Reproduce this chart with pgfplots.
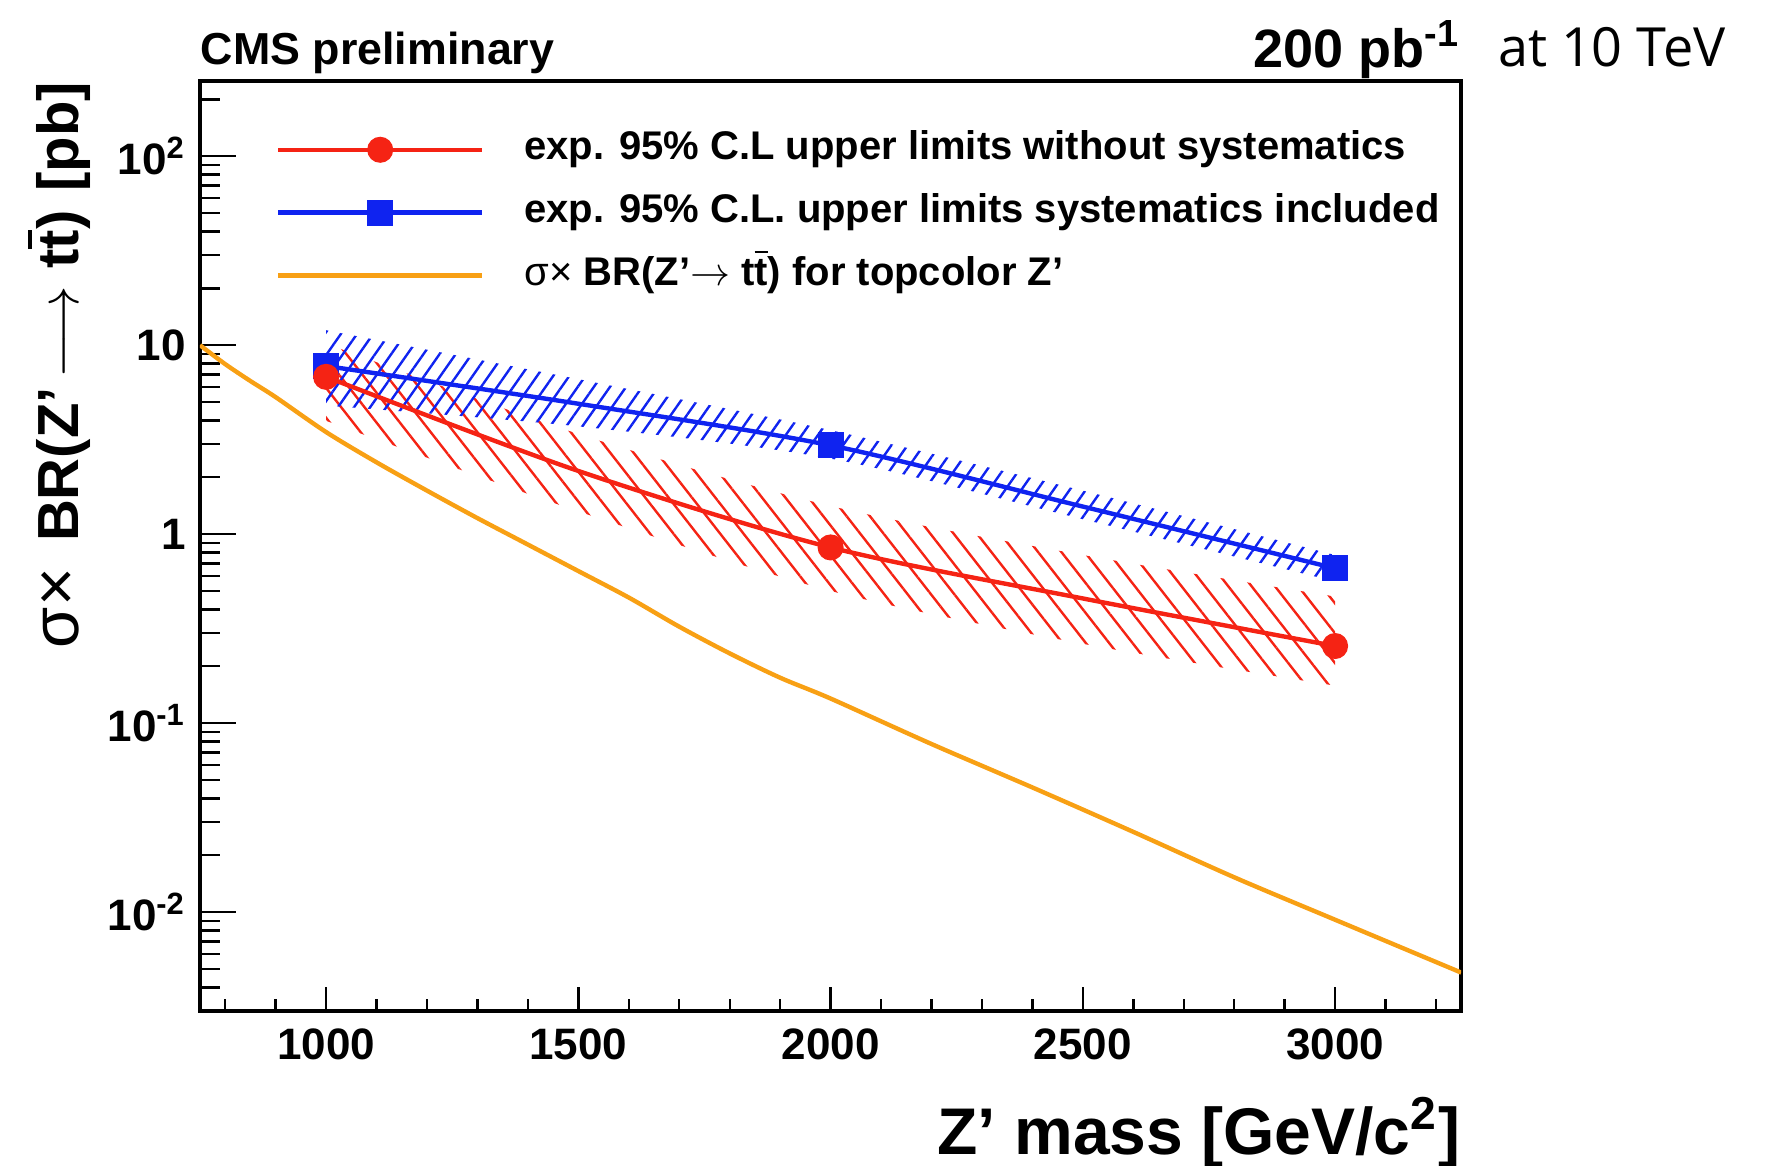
\documentclass[border=0pt]{standalone}
\usepackage{fontspec}
\setmainfont{Liberation Sans}
\newfontfamily\atfont{Open Sans}
\usepackage{graphicx}
\usepackage{pgfplots}
\pgfplotsset{compat=1.18}
\usepgfplotslibrary{fillbetween}
\usetikzlibrary{patterns.meta}
\definecolor{rootred}{RGB}{245,35,20}
\definecolor{rootblue}{RGB}{15,35,240}
\definecolor{rootorange}{RGB}{248,160,20}
\newcommand{\tbar}{\makebox[0pt][l]{\raisebox{0.80em}{\rule{0.33em}{0.07em}}}t}
\begin{document}
\begin{tikzpicture}
\begin{axis}[
  scale only axis, width=315.3pt, height=232.5pt,
  at={(0pt,0pt)}, anchor=south west,
  xmin=750, xmax=3250, ymode=log, ymin=0.003, ymax=250,
  axis line style={line width=1.1pt},
  xtick={1000,1500,2000,2500,3000},
  minor xtick={800,900,1100,1200,1300,1400,1600,1700,1800,1900,2100,2200,2300,2400,2600,2700,2800,2900,3100,3200},
  ytick={0.01,0.1,1,10,100},
  minor ytick={0.003,0.004,0.005,0.006,0.007,0.008,0.009,0.02,0.03,0.04,0.05,0.06,0.07,0.08,0.09,0.2,0.3,0.4,0.5,0.6,0.7,0.8,0.9,2,3,4,5,6,7,8,9,20,30,40,50,60,70,80,90,200},
  yticklabels={10\textsuperscript{-2},10\textsuperscript{-1},1,10,10\textsuperscript{2}},
  xtick pos=bottom, ytick pos=left, tick align=inside,
  xtick style={/pgfplots/major tick length=6pt,/pgfplots/minor tick length=3pt,line width=0.6pt,black},
  ytick style={/pgfplots/major tick length=9pt,/pgfplots/minor tick length=5pt,line width=0.6pt,black},
  /pgf/number format/assume math mode=true,
  /pgf/number format/1000 sep={},
  tick label style={font=\bfseries\fontsize{11}{13}\selectfont},
  xticklabel style={yshift=-1pt},
  xlabel={Z’ mass [GeV/c\textsuperscript{2}]},
  xlabel style={at={(axis description cs:1,-0.154)}, anchor=base east, inner sep=0pt, font=\bfseries\fontsize{16.5}{18}\selectfont},
  ylabel={{\mdseries\scalebox{1.15}{σ×}}\hspace{0.45em}BR(Z’\hspace{0.15em}$\longrightarrow$\hspace{0.3em}t\tbar)\hspace{0.33em}[pb]},
  ylabel style={at={(axis description cs:-0.0961,1)}, anchor=base east, inner sep=0pt, font=\bfseries\fontsize{14.5}{16}\selectfont},
  legend image code/.code={\draw[mark repeat=2,mark phase=2,#1] plot coordinates {(0pt,0pt) (25.5pt,0pt) (51pt,0pt)};},
  legend style={at={(axis description cs:0,1)}, anchor=north west, xshift=18.8pt, yshift=-12pt,
    draw=none, fill=none, inner sep=0pt, row sep=5.7pt,
    nodes={inner sep=0pt, text height=7.5pt, text depth=2.5pt},
    font=\bfseries\fontsize{10}{12}\selectfont,
    /tikz/every odd column/.append style={column sep=10pt}},
  legend cell align=left,
]
% red band
\addplot[name path=rU, draw=none, smooth, forget plot] coordinates {(1000,10.2) (1500,3.39) (2000,1.41) (2500,0.776) (3000,0.468)};
\addplot[name path=rL, draw=none, smooth, forget plot] coordinates {(1000,3.98) (1500,1.32) (2000,0.501) (2500,0.263) (3000,0.158)};
\addplot[pattern={Lines[angle=-52,distance=4.6pt,line width=0.6pt]}, pattern color=rootred, draw=none, forget plot] fill between[of=rU and rL];
% blue band
\addplot[name path=bU, draw=none, smooth, forget plot] coordinates {(1000,12.0) (1500,6.61) (2000,3.55) (2500,1.70) (3000,0.776)};
\addplot[name path=bL, draw=none, smooth, forget plot] coordinates {(1000,4.79) (1500,3.72) (2000,2.51) (2500,1.20) (3000,0.562)};
\addplot[pattern={Lines[angle=55,distance=3.3pt,line width=0.6pt]}, pattern color=rootblue, draw=none, forget plot] fill between[of=bU and bL];
% orange theory
\addplot[rootorange, line width=1.1pt, smooth, tension=0.5, forget plot] coordinates {(750,10.0) (800,7.94) (850,6.46) (900,5.31) (1000,3.47) (1100,2.40) (1200,1.70) (1300,1.216) (1400,0.881) (1500,0.638) (1600,0.462) (1700,0.324) (1800,0.234) (1900,0.174) (2000,0.135) (2200,0.0776) (2400,0.0457) (2600,0.0266) (2800,0.0153) (3000,0.00912) (3250,0.00479)};
% blue limits
\addplot[rootblue, line width=1.1pt, smooth, mark=square*, mark indices={1,3,5}, mark size=2.7pt, forget plot] coordinates {(1000,7.76) (1500,4.90) (2000,2.95) (2500,1.40) (3000,0.66)};
% red limits
\addplot[rootred, line width=1.1pt, smooth, mark=*, mark indices={1,3,5}, mark size=2.7pt, forget plot] coordinates {(1000,6.8) (1500,2.16) (2000,0.851) (2500,0.457) (3000,0.256)};
\addlegendimage{rootred, line width=1.1pt, mark=*, mark size=2.7pt}
\addlegendentry{exp. 95\% C.L upper limits without systematics}
\addlegendimage{rootblue, line width=1.1pt, mark=square*, mark size=2.7pt}
\addlegendentry{exp. 95\% C.L. upper limits systematics included}
\addlegendimage{rootorange, line width=1.1pt}
\addlegendentry{{\mdseries σ×} BR(Z’$\rightarrow$ t\tbar) for topcolor Z’}
\end{axis}
\node[anchor=base west, inner sep=0pt, font=\bfseries\fontsize{11.2}{13}\selectfont] at (0pt,236.5pt) {CMS preliminary};
\node[anchor=base east, inner sep=0pt, font=\bfseries\fontsize{13.5}{15}\selectfont] at (315.3pt,235.9pt) {200 pb\textsuperscript{-1}};
\node[anchor=base west, inner sep=0pt, font=\atfont\fontsize{13.5}{15}\selectfont] at (324.3pt,236pt) {at 10 TeV};
\pgfresetboundingbox
\path[use as bounding box] (-50pt,-38.75pt) rectangle (391.5pt,252.75pt);
\end{tikzpicture}
\end{document}
